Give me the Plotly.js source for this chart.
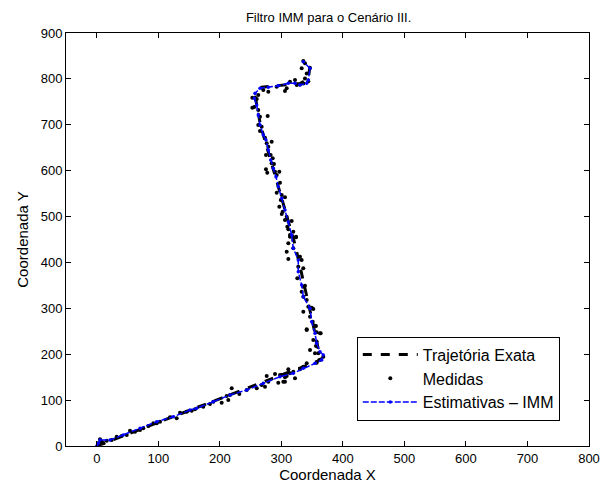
<!DOCTYPE html>
<html>
<head>
<meta charset="utf-8">
<script src="https://cdn.plot.ly/plotly-3.0.1.min.js"></script>
<style>html,body{margin:0;padding:0;background:#fff;}#chart{width:603px;height:488px;}</style>
</head>
<body>
<div id="chart"></div>
<script>
// Exact trajectory (waypoints)
const exactX = [0, 365, 361, 350, 322, 266, 257, 268, 330, 344, 346, 336];
const exactY = [0, 188, 205, 275, 440, 700, 765, 782, 790, 800, 825, 838];

// IMM estimates
const estX = [0, 2.5, 5.3, 21.5, 43.1, 70.3, 97.4, 124.4, 151.5, 162.4, 189.4, 216.5, 243.7, 270.7, 297.8, 319.4, 335.7, 354.7, 365.6, 368.2, 362.8, 357.4, 354.7, 349.3, 346.6, 335.7, 333, 327.5, 327.5, 319.4, 316.8, 311.3, 305.9, 300.6, 295, 291.3, 286.9, 282.7, 278.8, 275, 270.7, 265.3, 262.5, 259.9, 256, 257.2, 265.3, 278.8, 295, 311.3, 322.2, 330.3, 341.2, 343.8, 346.6, 335.7];
const estY = [0, 6, 13, 13, 24, 38.6, 53, 63.8, 78.4, 82.2, 96.5, 111, 122, 136.6, 151, 158.4, 169.3, 180.2, 187.4, 198.3, 205.5, 223.8, 245.6, 270.9, 300, 325.3, 350.8, 379.8, 405.3, 430.8, 459.8, 488.8, 514.3, 539.8, 565, 586.8, 605.1, 623.2, 645, 666.8, 677.7, 699.5, 721.3, 743, 757.7, 768.6, 779.5, 781.7, 785.1, 790.4, 790.4, 786.7, 790.4, 797.6, 823.1, 837.4];

// Measurements
const measX = [335.7, 338.4, 333, 346.6, 341.2, 338.4, 343.8, 335.7, 330.3, 322.2, 314, 325, 308.7, 305.9, 292.4, 278.8, 270.7, 262.5, 252.8, 260, 256, 252.8, 262.5, 265.3, 277.8, 262.5, 268, 265.3, 273.4, 284.3, 276.2,
  278.8, 275, 282.6, 285.9, 284.3, 288, 275, 277.1, 289.7, 296.7, 292.4, 297.8, 292.4, 300.6, 305.9, 299, 296.7, 302.2, 300.6, 308.7, 305.9, 316.8, 309.7, 311.3, 319.4, 314, 323.8,
  314, 323.8, 319.4, 311.3, 319.4, 308.7, 311.3, 330.3, 333, 335.7, 327.5, 325.9, 335.7, 338.4, 333, 335.7, 341.2, 343.8, 349.3, 351.9, 335.7, 346.6, 350.9, 354.7, 341.2, 357.4, 363.9,
  341.2, 356.3, 362.8, 351.9, 357.4, 356.3, 346.6, 354.7, 360.1, 368.2, 361.7, 357.4, 341.2, 335.7, 330.3, 319.4, 314, 322.2, 305.9, 303.2, 297.8,
  311.3, 300.6, 308.7, 289.7, 295, 305.9, 276.2, 278.8, 273.4, 268, 260, 243.7, 231.7, 219.3, 216.5, 211.1, 213.8, 203, 189.4, 184, 173.1, 159.7, 154.3, 146.2, 135.3,
  129.9, 119, 102.8, 97.4, 91.9, 83.8, 75.6, 70.3, 62.1, 54, 48.7, 40.5, 32.4, 24.3, 16.1, 8, 2.5, 5.3, 10.6];
const measY = [839, 834, 823, 824, 812, 801, 795, 790, 788, 797.6, 794, 786.7, 779.5, 773.6, 783, 772, 775.8, 765, 759, 756, 739, 737, 732, 717.6, 719, 699.5, 695.8, 686.4, 671.8, 663, 659.6,
  652, 634, 634, 627, 616, 614.5, 603, 595.6, 597.7, 597.7, 590.5, 573.8, 552, 547, 542, 536, 521.5, 510.6, 505.6, 499.7, 492.5, 490.3, 478, 472.2, 467, 459.8, 454.8,
  456, 456, 449, 441.7, 430.8, 423.4, 407.5, 412.5, 405.3, 387.2, 390.7, 365.4, 347, 349.3, 336.3, 325.3, 318.2, 303.5, 301.4, 298.5, 292.7, 281.8, 270.9, 262.2, 252.8, 247.7, 245.6,
  254.2, 261.5, 245.6, 231, 227.3, 218, 209.2, 202, 202, 194.6, 187.4, 181.5, 180.2, 172.8, 167.1, 162, 158.4, 147.5, 149.7, 140.1, 154.7,
  167.1, 154.7, 152.5, 156.9, 138, 140, 152.5, 140, 129.2, 133, 125.7, 122, 113.3, 125.7, 111, 109, 100.2, 94.4, 96.5, 91.5, 85.6, 80, 77, 74.7, 72.6,
  60.3, 62.5, 53, 49.5, 49.5, 43.6, 38.6, 34.9, 31.2, 33.3, 24, 21.8, 20.3, 13, 11.5, 9.4, 5.9, 14.6, 5.9];

const traces = [
  {x: exactX, y: exactY, type: 'scatter', mode: 'lines', name: 'Trajetória Exata',
   line: {color: '#000', width: 3, dash: 'dash'}},
  {x: measX, y: measY, type: 'scatter', mode: 'markers', name: 'Medidas',
   marker: {color: '#000', size: 4}},
  {x: estX, y: estY, type: 'scatter', mode: 'lines+markers', name: 'Estimativas – IMM',
   line: {color: '#0000ff', width: 1.5, dash: '6px,2px'}, marker: {color: '#0000ff', size: 3.5}}
];

const axisCommon = {
  showgrid: false, zeroline: false, showline: true, linecolor: '#000', linewidth: 1,
  mirror: 'ticks', ticks: 'inside', ticklen: 5, tickcolor: '#000',
  tickfont: {family: 'Liberation Sans, Arial, sans-serif', size: 13, color: '#000'}
};

const layout = {
  width: 603, height: 488,
  margin: {l: 66, r: 14, t: 33, b: 42},
  paper_bgcolor: '#fff', plot_bgcolor: '#fff',
  font: {family: 'Liberation Sans, Arial, sans-serif', color: '#000'},
  title: {text: 'Filtro IMM para o Cenário III.', font: {size: 13, color: '#000'}, x: 0.545, xanchor: 'center', y: 0.965, yanchor: 'middle'},
  xaxis: Object.assign({}, axisCommon, {range: [-50, 800], tickvals: [0,100,200,300,400,500,600,700,800],
    title: {text: 'Coordenada X', font: {size: 15}, standoff: 2}}),
  yaxis: Object.assign({}, axisCommon, {range: [0, 900], tickvals: [0,100,200,300,400,500,600,700,800,900],
    title: {text: 'Coordenada Y', font: {size: 15}, standoff: 8}}),
  showlegend: true,
  legend: {x: 0.556, y: 0.265, xanchor: 'left', yanchor: 'top', bgcolor: '#fff', itemwidth: 55,
    bordercolor: '#000', borderwidth: 1, font: {size: 16, color: '#000'}, tracegroupgap: 0}
};

Plotly.newPlot('chart', traces, layout, {displayModeBar: false, staticPlot: true});
</script>
</body>
</html>
